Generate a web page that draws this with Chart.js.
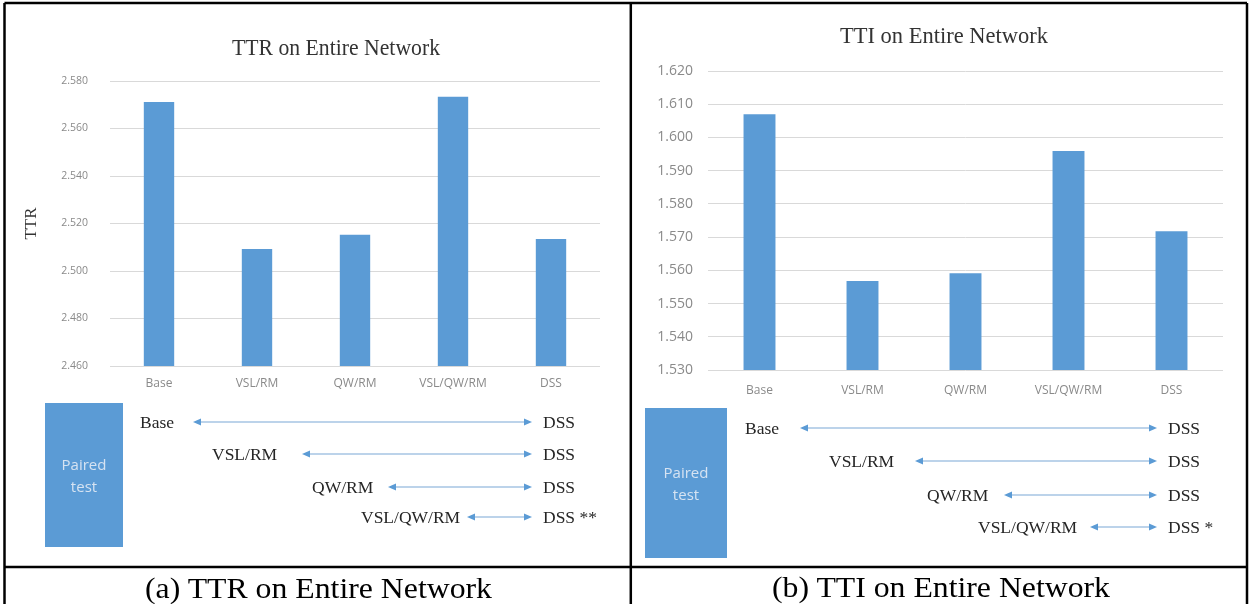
<!DOCTYPE html>
<html><head><meta charset="utf-8">
<script src="https://cdn.jsdelivr.net/npm/chart.js@4.4.1/dist/chart.umd.min.js"></script>
<style>
html,body{margin:0;padding:0;background:#fff;}
body{width:1250px;height:604px;position:relative;overflow:hidden;}
canvas{position:absolute;top:0;}
#ov{position:absolute;left:0;top:0;}
</style></head><body>
<canvas id="c1" width="629" height="400" style="left:0px"></canvas>
<canvas id="c2" width="619" height="400" style="left:631px"></canvas>
<svg id="ov" width="1250" height="604" xmlns="http://www.w3.org/2000/svg"></svg>
<script>
// ---------- data ----------
const categories = ['Base', 'VSL/RM', 'QW/RM', 'VSL/QW/RM', 'DSS'];
const ttrValues = [2.5712, 2.5093, 2.5153, 2.5734, 2.5135];
const ttiValues = [1.6070, 1.5568, 1.5591, 1.5959, 1.5718];
const ttrTicks = [2.46, 2.48, 2.50, 2.52, 2.54, 2.56, 2.58];
const ttiTicks = [1.53, 1.54, 1.55, 1.56, 1.57, 1.58, 1.59, 1.60, 1.61, 1.62];
const ttrTitle = 'TTR on Entire Network';
const ttiTitle = 'TTI on Entire Network';
const ttrAxisTitle = 'TTR';
const captionA = '(a) TTR on Entire Network';
const captionB = '(b) TTI on Entire Network';
const pairedLabel = ['Paired', 'test'];
const pairedFrom = ['Base', 'VSL/RM', 'QW/RM', 'VSL/QW/RM'];
const pairedTo = 'DSS';
const ttrSignif = ['', '', '', '**'];
const ttiSignif = ['', '', '', '*'];

const BLUE = '#5b9bd5';

function makeChart(id, values, ticks, o) {
  return new Chart(document.getElementById(id), {
    type: 'bar',
    data: { labels: categories, datasets: [{ data: values, backgroundColor: BLUE, borderWidth: 0,
      barPercentage: o.barPct, categoryPercentage: 1 }] },
    options: {
      responsive: false, animation: false, devicePixelRatio: 1,
      layout: { padding: o.pad },
      plugins: { legend: { display: false }, tooltip: { enabled: false }, title: { display: false } },
      scales: {
        x: {
          grid: { display: false, drawTicks: false }, border: { display: false },
          ticks: { color: '#8a8a8a', font: { family: 'Open Sans', size: 12 }, padding: o.xPad, maxRotation: 0, autoSkip: false },
          afterFit: s => { s.height = 30; }
        },
        y: {
          min: ticks[0], max: ticks[ticks.length - 1],
          afterBuildTicks: s => { s.ticks = ticks.map(v => ({ value: v })); },
          grid: { color: '#d9d9d9', lineWidth: 1, drawTicks: false }, border: { display: false },
          ticks: { color: '#8a8a8a', font: { family: 'Open Sans', size: o.yFont }, padding: o.yPad,
            callback: v => Number(v).toFixed(3) },
          title: o.yTitle ? { display: true, text: o.yTitle, color: '#333',
            font: { family: 'Liberation Serif', size: 17 }, padding: { top: 21, bottom: 0 } } : { display: false },
          afterFit: s => { s.width = o.yWidth; }
        }
      }
    }
  });
}

makeChart('c1', ttrValues, ttrTicks, { barPct: 0.31, pad: { top: 81, bottom: 4, left: 0, right: 29 },
  xPad: 10, yFont: 10.5, yPad: 22, yWidth: 110, yTitle: ttrAxisTitle });
makeChart('c2', ttiValues, ttiTicks, { barPct: 0.31, pad: { top: 71, bottom: 0, left: 0, right: 27 },
  xPad: 13, yFont: 14, yPad: 15, yWidth: 77, yTitle: null });

// ---------- overlay: frame, titles, paired-test diagram, captions ----------
const svg = document.getElementById('ov');
const NS = 'http://www.w3.org/2000/svg';
function el(tag, attrs, text) {
  const e = document.createElementNS(NS, tag);
  for (const k in attrs) e.setAttribute(k, attrs[k]);
  if (text !== undefined) e.textContent = text;
  svg.appendChild(e);
  return e;
}
// frame (no bottom edge, as in the reference)
const fr = { stroke: '#000', 'stroke-width': 2.5 };
el('line', Object.assign({ x1: 4.5, y1: 3, x2: 1247, y2: 3 }, fr));
el('line', Object.assign({ x1: 4.5, y1: 3, x2: 4.5, y2: 604 }, fr));
el('line', Object.assign({ x1: 1247, y1: 3, x2: 1247, y2: 604 }, fr));
el('line', Object.assign({ x1: 630.8, y1: 3, x2: 630.8, y2: 604 }, fr));
el('line', Object.assign({ x1: 4.5, y1: 567, x2: 1247, y2: 567 }, fr));

// chart titles
el('text', { x: 232, y: 55, 'font-family': 'Liberation Serif', 'font-size': 23, fill: '#333',
  textLength: 208, lengthAdjust: 'spacingAndGlyphs' }, ttrTitle);
el('text', { x: 840, y: 43, 'font-family': 'Liberation Serif', 'font-size': 23, fill: '#333',
  textLength: 208, lengthAdjust: 'spacingAndGlyphs' }, ttiTitle);

// captions
el('text', { x: 145, y: 598, 'font-family': 'Liberation Serif', 'font-size': 30, fill: '#000',
  textLength: 347, lengthAdjust: 'spacingAndGlyphs' }, captionA);
el('text', { x: 772, y: 597, 'font-family': 'Liberation Serif', 'font-size': 30, fill: '#000',
  textLength: 338, lengthAdjust: 'spacingAndGlyphs' }, captionB);

function paired(p) {
  el('rect', { x: p.box[0], y: p.box[1], width: p.box[2], height: p.box[3], fill: BLUE });
  const cx = p.box[0] + p.box[2] / 2;
  el('text', { x: cx, y: p.ptY[0], 'text-anchor': 'middle', 'font-family': 'Open Sans', 'font-size': 15, fill: '#d6e3f2' }, pairedLabel[0]);
  el('text', { x: cx, y: p.ptY[1], 'text-anchor': 'middle', 'font-family': 'Open Sans', 'font-size': 15, fill: '#d6e3f2' }, pairedLabel[1]);
  pairedFrom.forEach((name, i) => {
    const y = p.rowY[i];
    el('text', { x: p.textX[i], y: y + 6, 'font-family': 'Liberation Serif', 'font-size': 17.5, fill: '#262626' }, name);
    el('text', { x: p.dssX, y: y + 6, 'font-family': 'Liberation Serif', 'font-size': 17.5, fill: '#262626' },
      pairedTo + (p.sig[i] ? ' ' + p.sig[i] : ''));
    const l = p.tipL[i], r = p.tipR;
    el('line', { x1: l + 6, y1: y, x2: r - 6, y2: y, stroke: '#7aa8d6', 'stroke-width': 1.2 });
    el('polygon', { points: `${l},${y} ${l + 8},${y - 3.5} ${l + 8},${y + 3.5}`, fill: BLUE });
    el('polygon', { points: `${r},${y} ${r - 8},${y - 3.5} ${r - 8},${y + 3.5}`, fill: BLUE });
  });
}
paired({ box: [45, 403, 78, 144], ptY: [470, 492], rowY: [422, 454, 487, 517],
  textX: [140, 212, 312, 361], tipL: [193, 302, 388, 467], tipR: 532, dssX: 543, sig: ttrSignif });
paired({ box: [645, 408, 82, 150], ptY: [478, 500], rowY: [428, 461, 495, 527],
  textX: [745, 829, 927, 978], tipL: [800, 915, 1004, 1090], tipR: 1157, dssX: 1168, sig: ttiSignif });
</script>
</body></html>
